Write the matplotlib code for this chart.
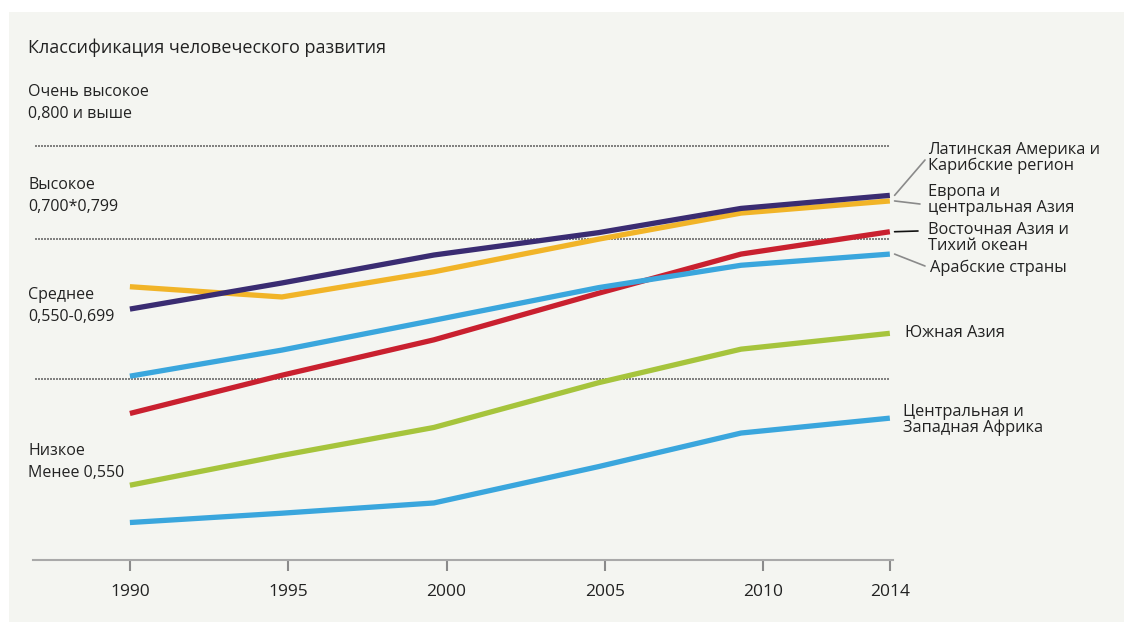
import matplotlib
matplotlib.use("Agg")
import matplotlib.pyplot as plt
from matplotlib.patches import Rectangle

plt.rcParams['font.family'] = ['Open Sans', 'DejaVu Sans']

# данные (индекс человеческого развития по регионам)
years = [1990, 1994.8, 1999.6, 2004.8, 2009.3, 2014]
tick_years = [1990, 1995, 2000, 2005, 2010, 2014]
latam = [0.625, 0.653, 0.683, 0.707, 0.733, 0.747]
europe = [0.649, 0.638, 0.665, 0.700, 0.728, 0.741]
east_asia = [0.513, 0.554, 0.592, 0.642, 0.684, 0.708]
arab = [0.553, 0.581, 0.613, 0.648, 0.672, 0.684]
south_asia = [0.436, 0.468, 0.498, 0.546, 0.582, 0.599]
africa = [0.396, 0.406, 0.417, 0.456, 0.492, 0.508]
thresholds = [0.800, 0.700, 0.550]

series = [
    (africa, '#3aa6dd'),
    (south_asia, '#a6c43c'),
    (east_asia, '#c9202f'),
    (arab, '#3aa6dd'),
    (europe, '#f1b428'),
    (latam, '#3a2c72'),
]

W, H = 1124, 622
fig = plt.figure(figsize=(W / 100, H / 100), dpi=100, facecolor='white')
bg = '#f4f5f1'
fig.patches.append(Rectangle((9 / W, 0), 1, 1 - 12 / H, transform=fig.transFigure,
                             facecolor=bg, edgecolor='none', zorder=-10))

ax = fig.add_axes([33 / W, (H - 560) / H, 860 / W, 420 / H])
ax.set_zorder(2)
ax.set_facecolor('none')
ax.set_xlim(1986.94, 2014.1)
ax.set_ylim(0.3558, 0.8064)

for t in thresholds:
    ax.hlines(t, 1987.0, 2014, colors='#6a6a6a', linestyles=(0, (1.2, 0.6)), lw=1.2, zorder=1)

for vals, col in series:
    ax.plot(years, vals, color=col, lw=3.8, solid_capstyle='butt', zorder=3)

for s in ['top', 'right', 'left']:
    ax.spines[s].set_visible(False)
ax.spines['bottom'].set_color('#a9a9a9')
ax.spines['bottom'].set_linewidth(1.5)
ax.set_yticks([])
ax.set_xticks(tick_years)
ax.set_xticklabels([str(y) for y in tick_years])
ax.tick_params(axis='x', direction='out', length=8, width=1.5, color='#8a8a8a',
               labelsize=12.5, labelcolor='#222222', pad=9)

# левые подписи
def ftext(x, y, s, size=11.5, **kw):
    fig.text(x / W, 1 - y / H, s, fontsize=size, color='#222222', va='center', ha='left', **kw)

ftext(28, 48, 'Классификация человеческого развития', size=13)
ftext(28, 92, 'Очень высокое', size=11.5)
ftext(28, 114, '0,800 и выше', size=11.5)
ftext(28, 185, 'Высокое', size=11.5)
ftext(28, 207, '0,700*0,799', size=11.5)
ftext(28, 295, 'Среднее', size=11.5)
ftext(28, 317, '0,550-0,699', size=11.5)
ftext(28, 451, 'Низкое', size=11.5)
ftext(28, 473, 'Менее 0,550', size=11.5)

# правые подписи
rs = 11.8
ls = 1.0
ftext(928, 158, 'Латинская Америка и\nКарибские регион', size=rs, linespacing=ls)
ftext(928, 200, 'Европа и\nцентральная Азия', size=rs, linespacing=ls)
ftext(928, 238, 'Восточная Азия и\nТихий океан', size=rs, linespacing=ls)
ftext(930, 268, 'Арабские страны', size=rs)
ftext(905, 333, 'Южная Азия', size=rs)
ftext(903, 420, 'Центральная и\nЗападная Африка', size=rs, linespacing=ls)

# выноски
def leader(val, xt, yt, col='#8a8a8a'):
    ax.annotate('', xy=(2014.15, val), xycoords='data',
                xytext=(xt, H - yt), textcoords='figure pixels', annotation_clip=False,
                arrowprops=dict(arrowstyle='-', color=col, lw=1.2, shrinkA=0, shrinkB=0))

leader(latam[-1], 925, 160)
leader(europe[-1], 920, 204)
leader(east_asia[-1], 918, 231, col='#111111')
leader(arab[-1], 925, 266)

fig.savefig('out.png', dpi=100, facecolor='white')
